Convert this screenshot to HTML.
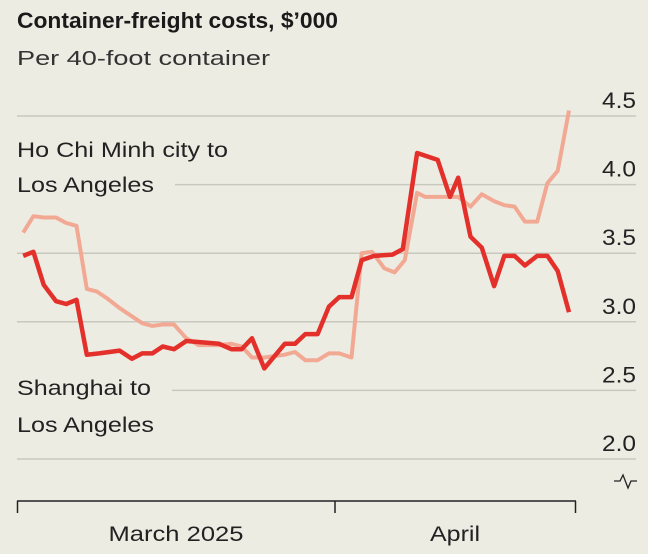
<!DOCTYPE html>
<html><head><meta charset="utf-8"><style>
html,body{margin:0;padding:0;background:#edece3;}
svg{display:block;font-family:"Liberation Sans",sans-serif;}
</style></head><body>
<svg width="648" height="554" viewBox="0 0 648 554">
<rect width="648" height="554" fill="#edece3"/>
<text x="17" y="28" font-size="22" font-weight="bold" fill="#1a1a1a" textLength="321" lengthAdjust="spacingAndGlyphs">Container-freight costs, $’000</text>
<text x="17" y="65" font-size="20" fill="#333" textLength="253" lengthAdjust="spacingAndGlyphs">Per 40-foot container</text>
<g id="grid"></g>
<g id="ylabels"></g>
<g id="series"></g>
<text x="17" y="157" font-size="21" fill="#222" textLength="211" lengthAdjust="spacingAndGlyphs">Ho Chi Minh city to</text>
<text x="17" y="192" font-size="21" fill="#222" textLength="137" lengthAdjust="spacingAndGlyphs">Los Angeles</text>
<text x="17" y="395" font-size="21" fill="#222" textLength="134" lengthAdjust="spacingAndGlyphs">Shanghai to</text>
<text x="17" y="432" font-size="21" fill="#222" textLength="137" lengthAdjust="spacingAndGlyphs">Los Angeles</text>
<path d="M614 481 L620 481 L623 475 L628 488 L631 481 L637 481" fill="none" stroke="#222" stroke-width="1.3"/>
<g>
<line x1="17" y1="501" x2="576" y2="501" stroke="#222" stroke-width="1.5"/>
<line x1="17.5" y1="501" x2="17.5" y2="513" stroke="#222" stroke-width="1.5"/>
<line x1="335" y1="501" x2="335" y2="513" stroke="#222" stroke-width="1.5"/>
<line x1="575.5" y1="501" x2="575.5" y2="513" stroke="#222" stroke-width="1.5"/>
<text x="176" y="541" font-size="21" fill="#222" text-anchor="middle" textLength="135" lengthAdjust="spacingAndGlyphs">March 2025</text>
<text x="455" y="541" font-size="21" fill="#222" text-anchor="middle" textLength="50" lengthAdjust="spacingAndGlyphs">April</text>
</g>
</svg>
<script>
const yTicks = [2.0, 2.5, 3.0, 3.5, 4.0, 4.5];
const yTickLabels = ["2.0", "2.5", "3.0", "3.5", "4.0", "4.5"];
const shanghaiDays = [0.6,1.6,2.6,3.8,4.8,5.8,6.8,8.0,10.0,11.2,12.2,13.2,14.2,15.3,16.5,18.1,19.7,20.9,21.9,22.9,24.1,26.1,27.1,28.1,29.3,30.4,31.4,32.6,33.6,34.8,36.6,37.6,39.0,41.0,42.2,43.0,44.2,45.3,46.5,47.5,48.5,49.5,50.7,51.7,52.7,53.8];
const shanghaiValues = [3.48,3.51,3.27,3.15,3.13,3.16,2.76,2.77,2.79,2.73,2.77,2.77,2.82,2.80,2.86,2.85,2.84,2.80,2.80,2.88,2.66,2.84,2.84,2.91,2.91,3.11,3.18,3.18,3.45,3.48,3.49,3.53,4.23,4.18,3.91,4.05,3.62,3.54,3.26,3.48,3.48,3.41,3.48,3.48,3.37,3.07];
const hcmDays = [0.6,1.6,2.6,3.8,4.8,5.8,6.8,7.8,8.8,10.0,11.2,12.2,13.2,14.2,15.3,16.5,17.7,19.7,20.9,21.9,22.9,24.1,25.1,26.1,27.1,28.1,29.3,30.4,31.4,32.6,33.6,34.6,35.8,36.8,37.8,39.0,39.8,41.0,42.2,43.0,44.2,45.3,46.5,47.5,48.5,49.5,50.7,51.7,52.7,53.8];
const hcmValues = [3.65,3.77,3.76,3.76,3.72,3.70,3.24,3.22,3.17,3.10,3.04,2.99,2.97,2.98,2.98,2.88,2.83,2.83,2.84,2.82,2.74,2.74,2.75,2.76,2.78,2.72,2.72,2.77,2.77,2.74,3.50,3.51,3.39,3.36,3.45,3.94,3.91,3.91,3.91,3.91,3.84,3.93,3.88,3.85,3.84,3.73,3.73,4.01,4.10,4.54];

const NS = "http://www.w3.org/2000/svg";
function yScale(v){ return 459 - (v - 2) * 137.2; }
function xScale(d){ return 17 + d * 10.26; }

const grid = document.getElementById('grid');
const ylab = document.getElementById('ylabels');
yTicks.forEach((t,i)=>{
  const y = yScale(t);
  const ln = document.createElementNS(NS,'line');
  
  
  let x1 = 17;
  if (t === 4.0) x1 = 175;
  if (t === 2.5) x1 = 172;
  ln.setAttribute('x1', x1); ln.setAttribute('x2', 636);
  ln.setAttribute('y1', y); ln.setAttribute('y2', y);
  ln.setAttribute('stroke', '#c9c8bf'); ln.setAttribute('stroke-width', '1.5');
  grid.appendChild(ln);
  const tx = document.createElementNS(NS,'text');
  
  
  tx.setAttribute('x', 636); tx.setAttribute('y', y - 8);
  tx.setAttribute('text-anchor', 'end'); tx.setAttribute('font-size', '22');
  tx.setAttribute('fill', '#222');
  tx.setAttribute('textLength', '34'); tx.setAttribute('lengthAdjust', 'spacingAndGlyphs');
  tx.textContent = yTickLabels[i];
  ylab.appendChild(tx);
});

function drawLine(days, vals, color, w, name){
  const p = document.createElementNS(NS,'polyline');
  
  
  p.setAttribute('points', days.map((d,i)=>xScale(d).toFixed(1)+','+yScale(vals[i]).toFixed(1)).join(' '));
  p.setAttribute('fill', 'none'); p.setAttribute('stroke', color);
  p.setAttribute('stroke-width', w); p.setAttribute('stroke-linejoin', 'round');
  document.getElementById('series').appendChild(p);
}
drawLine(hcmDays, hcmValues, '#f2a994', 4, 'hcm-line');
drawLine(shanghaiDays, shanghaiValues, '#e3302b', 4.5, 'shanghai-line');
</script>
</body></html>
